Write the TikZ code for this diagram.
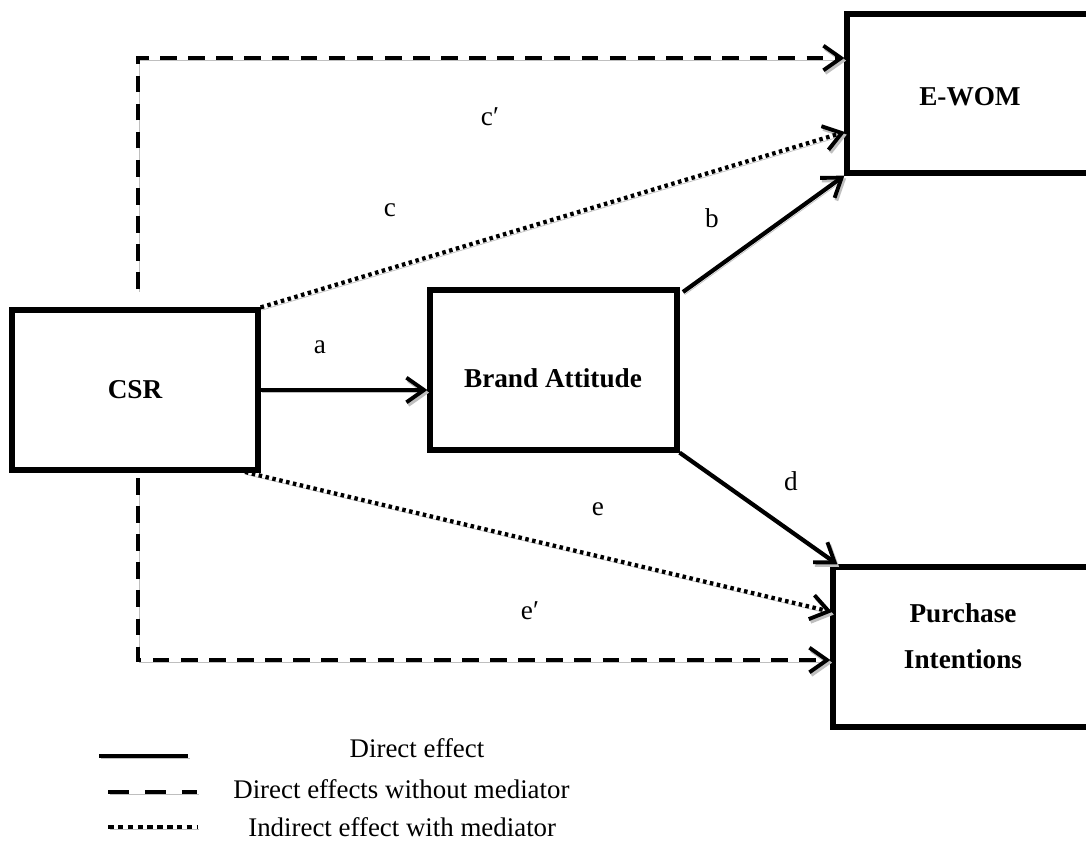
\documentclass[tikz,border=0pt]{standalone}
\usepackage{fontspec}
\setmainfont{Liberation Serif}
\usetikzlibrary{arrows.meta}
\begin{document}
\begin{tikzpicture}[x=0.02cm,y=-0.02cm,
  box/.style={draw, line width=3pt, rectangle, inner sep=0pt, font=\fontsize{15.5}{17}\selectfont\bfseries},
  boxtext/.style={font=\fontsize{15.5}{17}\selectfont\bfseries, align=center, inner sep=0pt},
  shad/.style={line width=2.4pt, preaction={draw=gray!50, transform canvas={shift={(1pt,-1.5pt)}}}},
  conn/.style={shad, -{Straight Barb[length=10pt,width=14pt,line width=2.2pt]}},
  dashline/.style={dash pattern=on 9.5pt off 6.5pt},
  dotline/.style={dash pattern=on 2pt off 2pt},
  lbl/.style={font=\fontsize{15.5}{17}\selectfont, inner sep=0pt},
  legtext/.style={font=\fontsize{15.3}{17}\selectfont, inner sep=0pt}]
\clip (0,0) rectangle (1086,848);
\fill[white] (0,0) rectangle (1086,848);

% boxes
\node[box, minimum width=246*0.02cm, minimum height=160*0.02cm] (CSR) at (135,390) {CSR};
\node[box, minimum width=247*0.02cm, minimum height=160*0.02cm] (BA) at (553.5,370) {};
\node[boxtext] (BAt) at (553,378) {Brand Attitude};
\node[box, minimum width=250*0.02cm, minimum height=159*0.02cm] (EW) at (972,93.5) {};
\node[boxtext] (EWt) at (970,97) {E-WOM};
\node[box, minimum width=262*0.02cm, minimum height=160*0.02cm] (PI) at (964,647) {};
\node[boxtext] (PIt) at (963,636) {Purchase\\[9pt]Intentions};

% helper coordinates
\coordinate (topstart) at (138,289);
\coordinate (topcorner) at (138,58);
\coordinate (botstart) at (138,478);
\coordinate (botcorner) at (138,660);
\coordinate (bstart) at (683,292);
\coordinate (estart) at (245,472);
\coordinate (cend) at (845,132);
\coordinate (eend) at (832,612);

% connectors
\draw[conn] (CSR.east) -- (CSR.east -| BA.west);
\draw[conn] (bstart) -- (EW.south west);
\draw[conn] (BA.south east) -- ([xshift=4pt]PI.north west);
\draw[conn, dotline] (CSR.north east) -- (cend);
\draw[conn, dotline] (estart) -- (eend);
\draw[conn, dashline] (topstart) -- (topcorner) -- (topcorner -| EW.west);
\draw[conn, dashline] (botstart) -- (botcorner) -- (botcorner -| PI.west);

% labels
\node[lbl] (la) at (320,347) {a};
\node[lbl] (lb) at (712,218) {b};
\node[lbl] (lc) at (390,210) {c};
\node[lbl] (lcp) at (490,117) {c′};
\node[lbl] (ld) at (791,481) {d};
\node[lbl] (le) at (598,509) {e};
\node[lbl] (lep) at (530,611) {e′};

% legend
\coordinate (l1a) at (99,756); \coordinate (l1b) at (188,756);
\coordinate (l2a) at (108,792); \coordinate (l2b) at (197,792);
\coordinate (l3a) at (108,827); \coordinate (l3b) at (197,827);
\draw[shad, line width=2.8pt] (l1a) -- (l1b);
\draw[shad, line width=2.8pt, dash pattern=on 12pt off 9pt] (l2a) -- (l2b);
\draw[shad, line width=2.8pt, dash pattern=on 3.2pt off 2.4pt] (l3a) -- (l3b);
\node[legtext, anchor=base] (t1) at (417,757) {Direct effect};
\node[legtext, anchor=base west] (t2) at (233,798) {Direct effects without mediator};
\node[legtext, anchor=base west] (t3) at (248,836) {Indirect effect with mediator};
\end{tikzpicture}
\end{document}
